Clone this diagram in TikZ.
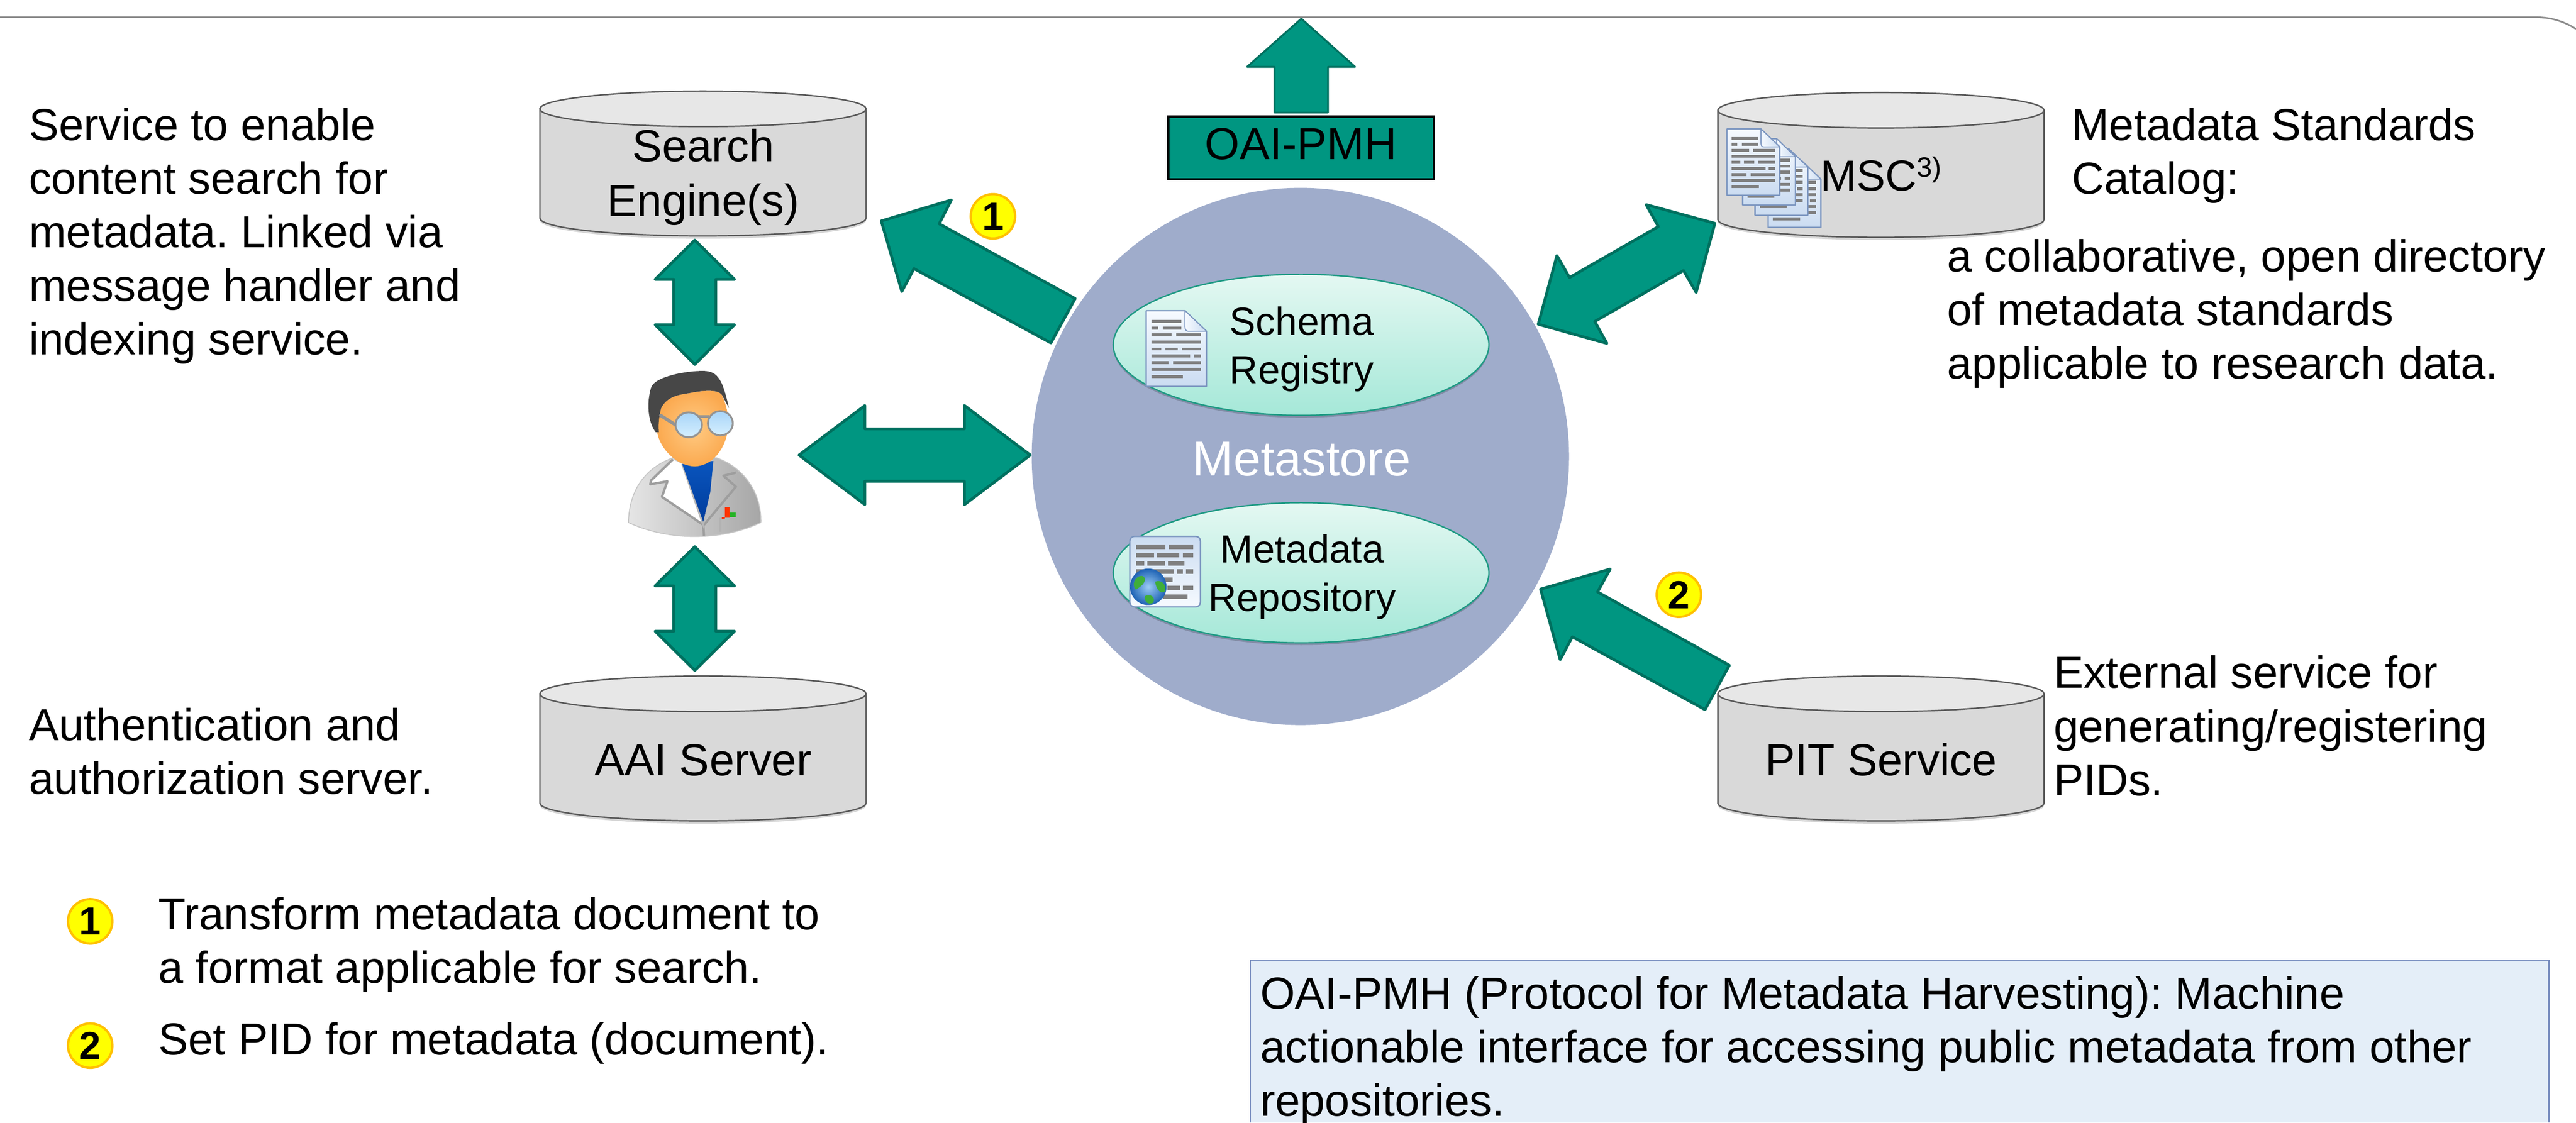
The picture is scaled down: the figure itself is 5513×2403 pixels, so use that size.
\documentclass[tikz,border=0pt]{standalone}
\usepackage{fontspec}
\setmainfont{Liberation Sans}
\usetikzlibrary{shapes.geometric}
\frenchspacing
\definecolor{teal1}{HTML}{009681}
\definecolor{teal2}{HTML}{00705F}
\definecolor{topline}{HTML}{8A8A8A}
\definecolor{cylS}{HTML}{D9D9D9}
\definecolor{cylT}{HTML}{E7E7E7}
\definecolor{cylB}{HTML}{5A5A5A}
\definecolor{metacirc}{HTML}{9FACCB}
\definecolor{ellT}{HTML}{E4F8F2}
\definecolor{ellB}{HTML}{A5E8D8}
\definecolor{ellD}{HTML}{1F9A84}
\definecolor{docB}{HTML}{7C96C0}
\definecolor{docL}{HTML}{7F7F7F}
\definecolor{docT}{HTML}{F6FAFF}
\definecolor{docE}{HTML}{CBDCF1}
\definecolor{numY}{HTML}{FFFF00}
\definecolor{numO}{HTML}{FFC000}
\definecolor{noteF}{HTML}{E4EEF8}
\definecolor{noteB}{HTML}{7A8FC0}
\definecolor{faceI}{HTML}{FFCB84}
\definecolor{faceO}{HTML}{FBA94F}
\definecolor{globeI}{HTML}{9CCCF5}
\definecolor{globeO}{HTML}{1E62B4}
\definecolor{globeG}{HTML}{3FAE3A}
\definecolor{lensT}{HTML}{A9D5F8}
\definecolor{lensB}{HTML}{D5EFFE}
\definecolor{shirtT}{HTML}{0A55BE}
\definecolor{shirtB}{HTML}{003C9C}
\newcommand\lftlines[1]{\vtop{\halign{##\hfil\cr#1\crcr}}}
\newcommand\ctrlines[1]{\vtop{\halign{\hfil##\hfil\cr#1\crcr}}}
\tikzset{
  x=0.01cm,y=-0.01cm,
  txt/.style={anchor=base west,inner sep=0pt,outer sep=0pt,text=black,font=\fontsize{27.3}{32.63}\selectfont},
  ctxt/.style={anchor=base,inner sep=0pt,outer sep=0pt,text=black,font=\fontsize{27.3}{33}\selectfont},
  smalltxt/.style={anchor=base,inner sep=0pt,outer sep=0pt,text=black,font=\fontsize{23.9}{29.5}\selectfont},
  blockarrow/.style={fill=teal1,draw=teal2,line width=0.06cm,line join=round},
  cylside/.style={fill=cylS,draw=cylB,line width=0.03cm},
  cyltop/.style={fill=cylT,draw=cylB,line width=0.03cm},
  ovalshape/.style={top color=ellT,bottom color=ellB,draw=ellD,line width=0.03cm},
  numdot/.style={circle,fill=numY,draw=numO,line width=0.05cm,minimum size=0.95cm,inner sep=0pt,text=black,font=\fontsize{23.9}{26}\selectfont\bfseries},
  docline/.style={draw=docL,line width=0.065cm},
  metaline/.style={draw=docL,line width=0.1cm},
}
\newcommand\cyl[2]{%
\begin{scope}[shift={(#1,#2)}]
  \path[fill=black,opacity=.16] (-349,42) -- (-349,277) .. controls (-349,298) and (-193,316) .. (0,316) .. controls (193,316) and (349,298) .. (349,277) -- (349,42) -- cycle;
  \draw[cylside] (-349,38) -- (-349,272) .. controls (-349,293) and (-193,310) .. (0,310) .. controls (193,310) and (349,293) .. (349,272) -- (349,38) -- cycle;
  \draw[cyltop] (0,38) ellipse [x radius=349,y radius=38];
\end{scope}}
\newcommand\docicon[3]{%
\begin{scope}[shift={(#1,#2)},scale=#3]
  \draw[top color=docT,bottom color=docE,draw=docB,line width=0.03cm,line join=round] (0,0) -- (83,0) -- (129,44) -- (129,162) -- (0,162) -- cycle;
  \draw[left color=docT,right color=docE,draw=docB,line width=0.02cm,line join=round] (83,0) -- (129,44) -- (90,44) .. controls (85,44) and (83,40) .. (83,34) -- cycle;
  \draw[docline] (11.5,23)--(75,23) (11.5,37)--(25.5,37) (36,37)--(75,37)
     (11.5,52)--(54,52) (64,52)--(117,52) (11.5,67)--(117,67)
     (11.5,82)--(32,82) (41,82)--(67,82) (76.5,82)--(117,82)
     (11.5,97)--(94,97) (102.5,97)--(117,97) (11.5,111.5)--(48,111.5) (57.5,111.5)--(117,111.5)
     (11.5,126)--(117,126) (11.5,141)--(78,141);
\end{scope}}
\begin{document}
\begin{tikzpicture}
\useasboundingbox (0,0) rectangle (5513,2403);
% top frame line
\draw[draw=topline,line width=0.035cm] (0,37) -- (5430,37) .. controls (5460,37) and (5490,47) .. (5513,62);

% central circle
\fill[metacirc] (2783,977) circle [radius=575];

% cylinders
\cyl{1504.5}{195}
\cyl{1504.5}{1447}
\cyl{4025.5}{198}
\cyl{4025.5}{1447}

% top arrow and OAI box
\draw[blockarrow,line width=0.04cm] (2785,40) -- (2900,143) -- (2842,143) -- (2842,241) -- (2727.5,241) -- (2727.5,143) -- (2669,143) -- cycle;
\node[draw=black,fill=teal1,line width=0.05cm,minimum width=5.68cm,minimum height=1.34cm,inner sep=0pt] (oaibox) at (2784.5,316.5) {};
\node[anchor=base,inner sep=0pt,font=\fontsize{27.3}{33}\selectfont] (oailabel) at (2784,341) {OAI-PMH};

% block arrows
\draw[blockarrow] (1487,514) -- (1572,598) -- (1532,598) -- (1532,695) -- (1572,695) -- (1487,780) -- (1402,695) -- (1442,695) -- (1442,598) -- (1402,598) -- cycle;
\draw[blockarrow] (1487,1170) -- (1572,1254) -- (1532,1254) -- (1532,1351) -- (1572,1351) -- (1487,1435) -- (1402,1351) -- (1442,1351) -- (1442,1254) -- (1402,1254) -- cycle;
\draw[blockarrow] (1710,974) -- (1851,868) -- (1851,918) -- (2064,918) -- (2064,868) -- (2205,974) -- (2064,1080) -- (2064,1030) -- (1851,1030) -- (1851,1080) -- cycle;
\draw[blockarrow] (1886,473) -- (2036,428) -- (2010,479) -- (2301,639) -- (2249,734) -- (1956,575) -- (1930,624) -- cycle;
\draw[blockarrow] (3670,478) -- (3523,438) -- (3549,485) -- (3359,594) -- (3332,547) -- (3292,694) -- (3439,735) -- (3413,688) -- (3603,579) -- (3630,626) -- cycle;
\draw[blockarrow] (3297,1261) -- (3446,1218) -- (3419,1267) -- (3701,1424) -- (3649,1519) -- (3365,1363) -- (3339,1412) -- cycle;

% ovals
\fill[black,opacity=.18] (2784.5,743) ellipse [x radius=402,y radius=151];
\draw[ovalshape] (2784.5,738) ellipse [x radius=402,y radius=151];
\fill[black,opacity=.18] (2784.5,1231) ellipse [x radius=402,y radius=150];
\draw[ovalshape] (2784.5,1226) ellipse [x radius=402,y radius=150];
\node[smalltxt] (schema) at (2786,717) {\ctrlines{Schema\cr Registry}};
\node[smalltxt] (metarepo) at (2787,1205) {\ctrlines{Metadata\cr Repository}};
\node[anchor=base,inner sep=0pt,text=white,font=\fontsize{29.87}{33}\selectfont] (metastore) at (2786,1018) {Metastore};

% document icons
\docicon{2453}{665}{1}
\begin{scope}[shift={(2418,1148)}]
  \draw[top color=docE,bottom color=docT,draw=docB,line width=0.03cm,rounded corners=0.1cm] (0,0) rectangle (151,151);
  \draw[metaline] (13.4,22.4)--(76.5,22.4) (83.5,22.4)--(136,22.4)
    (13.4,40)--(51.7,40) (58,40)--(106,40) (113,40)--(136,40)
    (13.4,57.6)--(30.6,57.6) (37,57.6)--(75,57.6) (82,57.6)--(117,57.6)
    (13.4,75.8)--(94.4,75.8) (101.4,75.8)--(113.5,75.8) (120.5,75.8)--(136,75.8)
    (72,93.3)--(91,93.3)
    (80,111)--(108,111) (114,111)--(136,111)
    (72,129)--(123,129);
\end{scope}
\shade[inner color=globeI,outer color=globeO] (2457.5,1256) circle [radius=39];
\fill[globeG] (2430,1240) .. controls (2440,1228) and (2452,1232) .. (2450,1243) .. controls (2446,1254) and (2436,1258) .. (2431,1262) .. controls (2425,1256) and (2425,1248) .. (2430,1240) -- cycle;
\fill[globeG] (2472,1245) .. controls (2485,1240) and (2496,1250) .. (2494,1265) .. controls (2486,1272) and (2476,1266) .. (2472,1245) -- cycle;
\fill[globeG] (2450,1276) .. controls (2462,1270) and (2474,1278) .. (2468,1290) .. controls (2458,1296) and (2448,1288) .. (2450,1276) -- cycle;

% stacked documents on the catalogue cylinder
\docicon{3784}{345}{.875}
\docicon{3756}{319}{.875}
\docicon{3729.5}{297}{.875}
\docicon{3696}{276}{.875}

% scientist
\begin{scope}[shift={(1300,770)},scale=.33333]
  \draw[left color=black!10,middle color=white,right color=black!35,draw=black!22,line width=0.02cm] (135,1045) .. controls (140,800) and (280,680) .. (420,630) -- (700,630) .. controls (850,680) and (990,830) .. (985,1045) .. controls (850,1110) and (700,1135) .. (560,1135) .. controls (400,1135) and (250,1100) .. (135,1045) -- cycle;
  \fill[white] (420,640) -- (280,775) -- (275,800) -- (385,780) -- (350,880) -- (615,1060) -- (480,670) -- cycle;
  \draw[draw=black!38,line width=0.05cm,line join=round] (420,640) -- (280,775) -- (275,800) -- (385,780) -- (350,880) -- (615,1060) -- (620,1130);
  \draw[draw=black!38,line width=0.05cm,line join=round] (825,725) -- (745,745) -- (825,815) -- (620,1060);
  \draw[draw=black!28,line width=0.04cm] (480,670) -- (615,1060) -- (680,660);
  \shade[top color=shirtT,bottom color=shirtB] (480,670) -- (680,650) -- (660,850) -- (615,1040) -- cycle;
  \draw[draw=black!30,line width=0.04cm] (725,1105) -- (725,1020) -- (840,1005) -- (840,1090);
  \fill[red!60!orange] (755,945) rectangle (785,1015);
  \fill[red!60!orange] (735,1010) rectangle (755,1020);
  \fill[green!65!black!85!white] (785,980) rectangle (825,1012);
  \shade[inner color=faceI,outer color=faceO] (345,310) .. controls (380,240) and (450,225) .. (520,215) .. controls (620,195) and (710,190) .. (735,225) .. controls (760,280) and (790,380) .. (770,470) .. controls (750,570) and (680,680) .. (560,685) .. controls (440,680) and (340,570) .. (320,470) .. controls (325,400) and (335,350) .. (345,310) -- cycle;
  \fill[black!72] (310,465) .. controls (260,400) and (250,280) .. (280,180) .. controls (300,110) and (500,70) .. (620,72) .. controls (710,75) and (740,130) .. (780,310) -- (735,225) .. controls (710,190) and (620,195) .. (520,215) .. controls (450,225) and (380,240) .. (345,310) .. controls (335,350) and (325,400) .. (330,465) -- cycle;
  \draw[draw=black!42,line width=0.07cm,line cap=round] (342,358) -- (440,420);
  \draw[draw=black!42,line width=0.05cm] (590,365) -- (650,365);
  \draw[top color=lensT,bottom color=lensB,draw=black!42,line width=0.04cm] (522,418) ellipse [x radius=85,y radius=80];
  \draw[top color=lensT,bottom color=lensB,draw=black!42,line width=0.04cm] (725,408) ellipse [x radius=80,y radius=78];
\end{scope}

% numbered markers
\node[numdot] (mark1) at (2125,463) {1};
\node[numdot] (mark2) at (3593,1273) {2};
\node[numdot] (leg1) at (193,1972) {1};
\node[numdot] (leg2) at (193,2238) {2};

% cylinder labels
\node[ctxt] (search) at (1505,346) {\ctrlines{Search\cr Engine(s)}};
\node[ctxt] (aai) at (1505,1660) {AAI Server};
\node[ctxt] (pit) at (4026,1660) {PIT Service};
\node[anchor=base west,inner sep=0pt,font=\fontsize{26.46}{30}\selectfont] (msc) at (3895,408) {MSC\raisebox{0.29cm}{\fontsize{17}{18}\selectfont 3)}};

% descriptive text
\node[txt] (t1) at (62,300) {\lftlines{Service to enable\cr content search for\cr metadata. Linked via\cr message handler and\cr indexing service.}};
\node[txt] (t2) at (62,1585) {\lftlines{Authentication and\cr authorization server.}};
\node[txt] (t3) at (4434,300) {\lftlines{Metadata Standards\cr Catalog:}};
\node[txt] (t4) at (4167,582) {\lftlines{a collaborative, open directory\cr of metadata standards\cr applicable to research data.}};
\node[txt] (t5) at (4395,1473) {\lftlines{External service for\cr generating/registering\cr PIDs.}};
\node[txt] (l1) at (339,1990) {\lftlines{Transform metadata document to\cr a format applicable for search.}};
\node[txt] (l2) at (339,2258) {Set PID for metadata (document).};

% note box
\fill[noteF] (2676,2055) rectangle (5455,2403);
\draw[draw=noteB,line width=0.025cm] (2676,2403) -- (2676,2055) -- (5455,2055) -- (5455,2403);
\node[txt] (note) at (2697,2159) {\lftlines{OAI-PMH (Protocol for Metadata Harvesting): Machine\cr actionable interface for accessing public metadata from other\cr repositories.}};
\end{tikzpicture}
\end{document}
